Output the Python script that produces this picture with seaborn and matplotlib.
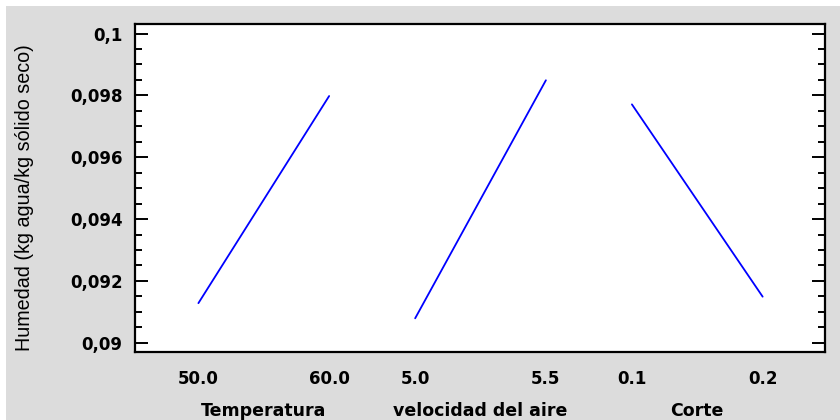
import numpy as np
import pandas as pd
import seaborn as sns
import matplotlib
matplotlib.use("Agg")
import matplotlib.pyplot as plt
from matplotlib.patches import Rectangle
from matplotlib.ticker import FixedLocator, MultipleLocator

# ---- data ----
factors = ["Temperatura", "velocidad del aire", "Corte"]
levels_low = [50.0, 5.0, 0.1]
levels_high = [60.0, 5.5, 0.2]
level_labels = ["50.0", "60.0", "5.0", "5.5", "0.1", "0.2"]
resp_low = [0.09128, 0.09079, 0.09771]
resp_high = [0.09798, 0.09849, 0.09149]
y_ticks = [0.090, 0.092, 0.094, 0.096, 0.098, 0.100]
y_tick_labels = ["0,09", "0,092", "0,094", "0,096", "0,098", "0,1"]
y_label = "Humedad (kg agua/kg sólido seco)"

sns.set_theme(style="white")
plt.rcParams["font.family"] = ["Liberation Sans", "DejaVu Sans"]
bold_font = ["DejaVu Sans"]

gap = 0.658
offsets = [i * (1 + gap) for i in range(3)]
rows = []
for f, lo, hi, rl, rh, off in zip(factors, levels_low, levels_high, resp_low, resp_high, offsets):
    for lev, r in ((lo, rl), (hi, rh)):
        rows.append({"factor": f, "pos": off + (lev - lo) / (hi - lo), "y": r})
df = pd.DataFrame(rows)

fig = plt.figure(figsize=(8.4, 4.2), dpi=100, facecolor="white")
bg = Rectangle((6 / 840, 0), 1 - 6 / 840, 1 - 6 / 420,
               transform=fig.transFigure, facecolor="#dcdcdc",
               edgecolor="none", zorder=-10)
fig.patches.append(bg)
ax = fig.add_axes([135 / 840, (420 - 352) / 420, 690 / 840, 328 / 420])
ax.set_zorder(1)
ax.set_facecolor("white")

sns.lineplot(data=df, x="pos", y="y", units="factor", estimator=None,
             color="#0000ff", linewidth=1.3, ax=ax, legend=False)

ax.set_xlim(-0.485, offsets[-1] + 1 + 0.477)
ax.set_ylim(0.08970, 0.10031)

xt = []
for off in offsets:
    xt += [off, off + 1]
ax.set_xticks(xt)
ax.set_xticklabels(level_labels, fontsize=12, fontweight="bold", color="black",
                   family=bold_font)
ax.tick_params(axis="x", length=0, pad=13)

ax.yaxis.set_major_locator(FixedLocator(y_ticks))
ax.set_yticklabels(y_tick_labels, fontsize=12, fontweight="bold", color="black",
                   family=bold_font)
ax.yaxis.set_minor_locator(MultipleLocator(0.0005))
ax.tick_params(axis="y", which="major", direction="in", length=9.5, width=1.4,
               left=True, right=True, pad=9, colors="black")
ax.tick_params(axis="y", which="minor", direction="in", length=5, width=1.4,
               left=True, right=True, colors="black")
ax.set_xlabel("")
ax.set_ylabel("")

for s in ax.spines.values():
    s.set_visible(True)
    s.set_color("black")
    s.set_linewidth(1.6)

for f, off in zip(factors, offsets):
    ax.text(off + 0.5, -0.195, f, transform=ax.get_xaxis_transform(),
            ha="center", va="baseline", fontsize=12.5, fontweight="bold",
            color="black", family=bold_font)

fig.text(25 / 840, 1 - 198 / 420, y_label, rotation=90, ha="center", va="center",
         fontsize=14.2, color="black", family=["Liberation Sans", "DejaVu Sans"])

fig.savefig("out.png", dpi=100, facecolor=fig.get_facecolor())
